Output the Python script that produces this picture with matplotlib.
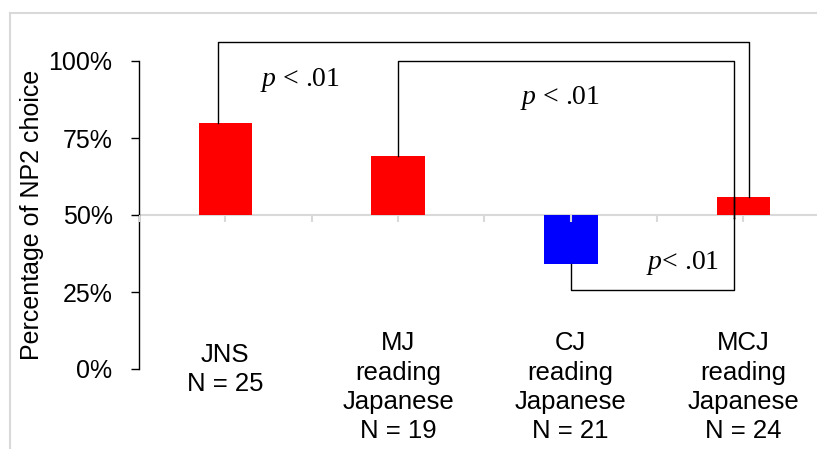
import matplotlib.pyplot as plt
from matplotlib.lines import Line2D

plt.rcParams['font.family'] = 'Liberation Sans'
plt.rcParams['mathtext.fontset'] = 'custom'
plt.rcParams['mathtext.it'] = 'Liberation Serif:italic'
plt.rcParams['mathtext.rm'] = 'Liberation Serif'

# datos
grupos = ["JNS\nN = 25", "MJ\nreading\nJapanese\nN = 19",
          "CJ\nreading\nJapanese\nN = 21", "MCJ\nreading\nJapanese\nN = 24"]
porcentajes = [80, 69, 34, 56]
colores = ['#ff0000', '#ff0000', '#0000ff', '#ff0000']
base = 50
yticks = [0, 25, 50, 75, 100]

gris = '#d9d9d9'

fig = plt.figure(figsize=(8.17, 4.49), dpi=100)
ax = fig.add_axes([139/817, 80/449, 678/817, 308/449])

x = list(range(len(grupos)))
alturas = [p - base for p in porcentajes]
ax.bar(x, alturas, bottom=base, width=0.31, color=colores, zorder=2)

ax.set_xlim(-0.5, 3.426)
ax.set_ylim(0, 100)

# eje Y
for lado in ['top', 'right', 'bottom']:
    ax.spines[lado].set_visible(False)
ax.spines['left'].set_bounds(0, 100)
ax.spines['left'].set_linewidth(1.0)
ax.set_yticks(yticks)
ax.set_yticklabels([f"{v}%" for v in yticks], fontsize=18)
ax.tick_params(axis='y', length=6, width=1.0, pad=13)
ax.set_xticks([])
ax.set_ylabel("Percentage of NP2 choice", fontsize=18, labelpad=3)

# eje de categorias en 50%
ax.axhline(base, color=gris, lw=1.5, zorder=1, clip_on=False)
marcas = [i * 0.5 - 0.5 for i in range(8)]
ax.vlines(marcas, base - 2.2, base, color=gris, lw=1.5, zorder=3)

# etiquetas de grupos
for i, etiqueta in enumerate(grupos):
    ytop = 8.6 if i == 0 else 12.2
    ax.text(i, ytop, etiqueta, ha='center', va='top', fontsize=18.5,
            linespacing=1.27)

# corchetes de significacion
def corchete(x1, y1, x2, y2, nivel):
    ax.plot([x1, x1, x2, x2], [y1, nivel, nivel, y2], color='black',
            lw=1.0, clip_on=False, zorder=4)

corchete(-0.04, porcentajes[0], 3.032, porcentajes[3], 106.2)
corchete(1.0, porcentajes[1], 2.945, base - 1, 100)
corchete(2.0, porcentajes[2], 2.945, base - 1, 25.5)
ax.plot([2.945, 2.945], [base - 1, porcentajes[3]], color='black', lw=1.0, zorder=4)

ptxt = r'$p$ < .01'
ax.text(0.203, 91.9, ptxt, fontsize=20, family='Liberation Serif', va='baseline')
ax.text(1.704, 86.0, ptxt, fontsize=20, family='Liberation Serif', va='baseline')
ax.text(2.435, 32.5, r'$p$< .01', fontsize=20, family='Liberation Serif', va='baseline')

# marco exterior
fig.add_artist(Line2D([10/817, 1], [1 - 13/449, 1 - 13/449], color=gris, lw=1.5))
fig.add_artist(Line2D([10/817, 10/817], [0, 1 - 13/449], color=gris, lw=1.5))

fig.savefig('out.png', dpi=100)
